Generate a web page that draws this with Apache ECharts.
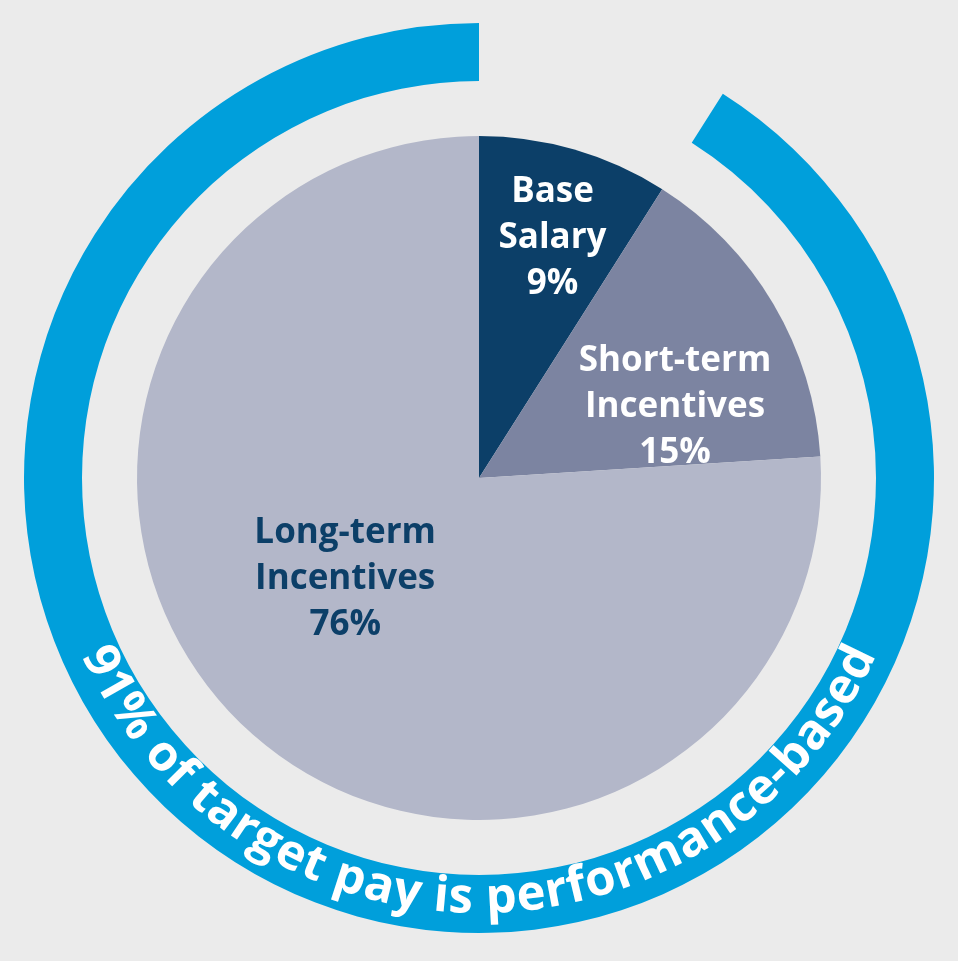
<!DOCTYPE html>
<html>
<head>
<meta charset="utf-8">
<script src="https://cdn.jsdelivr.net/npm/echarts@6/dist/echarts.min.js"></script>
<style>
html,body{margin:0;padding:0;background:#ebebeb;}
#chart{width:958px;height:961px;}
</style>
</head>
<body>
<div id="chart"></div>
<script>
// ---- data ----
const categories = ['Base\nSalary', 'Short-term\nIncentives', 'Long-term\nIncentives'];
const shares = [9, 15, 76];
const performanceShare = 91;
const ringText = performanceShare + '% of target pay is performance-based';

// ---- styles ----
const sliceColors = ['#0c3f68', '#7c84a1', '#b3b7c9'];
const labelColors = ['#ffffff', '#ffffff', '#0c3f68'];
const ringColor = '#009fdb';
const FONT = '"Open Sans", "Noto Sans", sans-serif';
const cx = 479, cy = 478;
const pieR = 342, ringIn = 397, ringOut = 455;
// label placement in polar terms (fraction of radius, angle in degrees CCW from +x)
const labelPolar = [[0.735, 73], [0.61, 20], [0.49, 217]];

const chart = echarts.init(document.getElementById('chart'), null, {renderer: 'canvas'});

// curved text along the bottom of the ring
function curvedText() {
  const fs = 49, rMid = 421;
  const ctx = document.createElement('canvas').getContext('2d');
  ctx.font = 'bold ' + fs + 'px ' + FONT;
  const total = ctx.measureText(ringText).width;
  const span = total / rMid;
  const start = Math.PI / 2 + span / 2; // screen angle, clockwise from +x (y down)
  const els = [];
  for (let i = 0; i < ringText.length; i++) {
    const ch = ringText[i];
    if (ch === ' ') continue;
    const off = ctx.measureText(ringText.slice(0, i)).width;
    const w = ctx.measureText(ch).width;
    const th = start - (off + w / 2) / rMid;
    els.push({
      type: 'text',
      x: cx + rMid * Math.cos(th),
      y: cy + rMid * Math.sin(th),
      rotation: -(th - Math.PI / 2),
      silent: true,
      z: 100,
      zlevel: 0,
      style: {
        text: ch, fill: '#ffffff',
        font: 'bold ' + fs + 'px ' + FONT,
        align: 'center', verticalAlign: 'middle',
        textAlign: 'center', textVerticalAlign: 'middle'
      }
    });
  }
  return els;
}

const option = {
  backgroundColor: '#ebebeb',
  animation: false,
  series: [
    {
      type: 'pie',
      silent: true,
      z: 1,
      center: [cx, cy],
      radius: [ringIn, ringOut],
      startAngle: 90,
      clockwise: true,
      label: {show: false},
      labelLine: {show: false},
      itemStyle: {borderWidth: 0},
      data: [
        {value: 100 - performanceShare, itemStyle: {color: 'rgba(0,0,0,0)'}},
        {value: performanceShare, itemStyle: {color: ringColor}}
      ]
    },
    {
      type: 'pie',
      silent: true,
      z: 1,
      center: [cx, cy],
      radius: [0, pieR],
      startAngle: 90,
      clockwise: true,
      itemStyle: {borderWidth: 0},
      labelLine: {show: false},
      label: {
        show: true,
        position: 'inside',
        formatter: p => p.name + '\n' + p.value + '%',
        fontFamily: FONT,
        fontWeight: 'bold',
        fontSize: 35,
        lineHeight: 46,
        align: 'center'
      },
      labelLayout: function (params) {
        const lp = labelPolar[params.dataIndex];
        const a = lp[1] * Math.PI / 180;
        return {
          x: cx + lp[0] * pieR * Math.cos(a),
          y: cy - lp[0] * pieR * Math.sin(a),
          align: 'center',
          verticalAlign: 'middle'
        };
      },
      data: categories.map((c, i) => ({
        name: c,
        value: shares[i],
        itemStyle: {color: sliceColors[i]},
        label: {color: labelColors[i]}
      }))
    }
  ],
  graphic: {elements: curvedText()}
};
chart.setOption(option);
</script>
</body>
</html>
